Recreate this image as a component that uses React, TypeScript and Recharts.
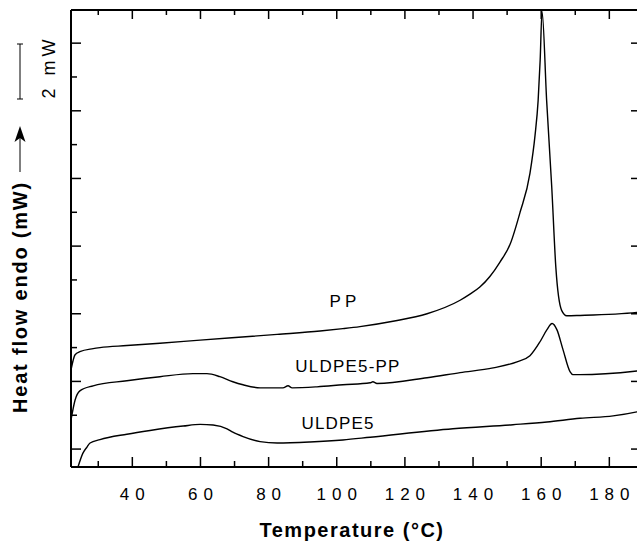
import React from 'react';
import { LineChart, Line, XAxis, YAxis, ReferenceDot } from 'recharts';

// DSC heating traces, temperature (°C) vs heat flow (in axis divisions)
const ppTemp = [22, 23.2, 24.6, 28.5, 30.5, 38.4, 48.1, 59.9, 82.5, 95.1, 101.8, 106.8, 116.5, 126.5, 136.2, 139.1, 142, 145, 147.9, 150.9, 153.8, 156.7, 158.2, 159.1, 159.7, 160.25, 161.6, 163.1, 164.3, 166, 167.5, 171.4, 188.1, 189];
const ppFlow = [2.34, 2.79, 2.88, 2.97, 3.0, 3.06, 3.13, 3.22, 3.39, 3.49, 3.56, 3.62, 3.78, 4.0, 4.4, 4.58, 4.79, 5.11, 5.53, 6.06, 7.0, 8.15, 9.28, 10.3, 11.5, 12.94, 10.3, 7.74, 5.37, 4.1, 3.94, 3.95, 4.04, 4.05];

const blendTemp = [22, 23.2, 24.6, 28.5, 38.4, 48.1, 57.8, 61.9, 65.7, 69.5, 72.5, 77.5, 84.2, 85.7, 86.9, 94.2, 101.8, 109.8, 110.6, 111.8, 126.5, 136.2, 145.9, 152.9, 156.7, 159.7, 161.7, 163.2, 164.6, 166.4, 168.5, 169.3, 171.4, 188.1, 189];
const blendFlow = [0.86, 1.45, 1.72, 1.87, 2.02, 2.14, 2.23, 2.23, 2.14, 1.99, 1.9, 1.81, 1.81, 1.87, 1.81, 1.84, 1.9, 1.96, 1.99, 1.94, 2.11, 2.26, 2.4, 2.58, 2.76, 3.18, 3.53, 3.71, 3.53, 2.94, 2.28, 2.2, 2.2, 2.31, 2.32];

const uldpeTemp = [24.05, 25.5, 26.7, 27.6, 30.5, 38.4, 45.2, 54.9, 59.9, 63.7, 67.8, 69.5, 72.5, 77.5, 82.5, 92.1, 101.8, 109.8, 134.1, 151.7, 161.7, 171.4, 181.1, 188.1, 189];
const uldpeFlow = [-0.53, -0.12, 0.06, 0.18, 0.28, 0.44, 0.55, 0.68, 0.73, 0.71, 0.6, 0.5, 0.37, 0.22, 0.18, 0.21, 0.27, 0.35, 0.6, 0.72, 0.8, 0.91, 0.98, 1.1, 1.12];

const tempTicks = [30, 40, 50, 60, 70, 80, 90, 100, 110, 120, 130, 140, 150, 160, 170, 180];
const flowTicks = [0, 1, 2, 3, 4, 5, 6, 7, 8, 9, 10, 11, 12];
const rightTicks = [0, 2, 4, 6, 8, 10, 12];

const seriesLabels = [
  { name: 'PP', t: 102.1, v: 4.37 },
  { name: 'ULDPE5-PP', t: 103, v: 2.45 },
  { name: 'ULDPE5', t: 100.1, v: 0.77 },
];

const toRows = (ts: number[], vs: number[]) => ts.map((t, i) => ({ t, v: vs[i] }));
const ppData = toRows(ppTemp, ppFlow);
const blendData = toRows(blendTemp, blendFlow);
const uldpeData = toRows(uldpeTemp, uldpeFlow);

const FONT = '"Liberation Sans", Arial, Helvetica, sans-serif';
const axisLine = { stroke: '#000', strokeWidth: 2 };
const PLOT_LEFT = 71;
const PLOT_TOP = 10;
const PLOT_BOTTOM = 467;

const BottomTick = ({ x, y, payload }: any) => {
  const major = payload.value % 20 === 0;
  return (
    <g>
      <line x1={x} x2={x} y1={y} y2={y - (major ? 10 : 6)} stroke="#000" strokeWidth={1.5} />
      {major && (
        <text x={x} y={y + 27} dx={3} textAnchor="middle" dominantBaseline="central"
          fontFamily={FONT} fontSize={17} letterSpacing={6} fill="#000">
          {payload.value}
        </text>
      )}
    </g>
  );
};

const TopTick = ({ x, y, payload }: any) => {
  const major = payload.value % 20 === 0;
  return <line x1={x} x2={x} y1={y} y2={y + (major ? 9 : 5)} stroke="#000" strokeWidth={1.5} />;
};

const LeftTick = ({ x, y, payload }: any) => {
  const major = payload.value % 2 === 0;
  return <line x1={x} x2={x + (major ? 10 : 6)} y1={y} y2={y} stroke="#000" strokeWidth={1.5} />;
};

const RightTick = ({ x, y }: any) => (
  <line x1={x} x2={x - 9} y1={y} y2={y} stroke="#000" strokeWidth={1.5} />
);

const XTitle = () => (
  <text x={352} y={PLOT_BOTTOM + 70} textAnchor="middle" fontFamily={FONT}
    fontSize={20} fontWeight="bold" letterSpacing={1.5} fill="#000">
    Temperature (°C)
  </text>
);

const YTitle = () => {
  const x0 = PLOT_LEFT;
  const y0 = PLOT_TOP;
  const bx = 20;
  return (
    <g>
      {/* 2 mW scale bar */}
      <line x1={bx} x2={bx} y1={y0 + 34} y2={y0 + 89} stroke="#000" strokeWidth={1} />
      <line x1={bx - 3} x2={bx + 3} y1={y0 + 34} y2={y0 + 34} stroke="#000" strokeWidth={1} />
      <line x1={bx - 3} x2={bx + 3} y1={y0 + 89} y2={y0 + 89} stroke="#000" strokeWidth={1} />
      <text transform={`translate(${x0 - 22},${y0 + 57}) rotate(-90)`} textAnchor="middle"
        dominantBaseline="central" fontFamily={FONT} fontSize={18} letterSpacing={4} fill="#000">
        2 mW
      </text>
      {/* arrow */}
      <line x1={bx} x2={bx} y1={y0 + 162} y2={y0 + 128} stroke="#000" strokeWidth={1} />
      <path d={`M${bx},${y0 + 116} L${bx - 5.5},${y0 + 132} L${bx},${y0 + 128} L${bx + 5.5},${y0 + 132} Z`} fill="#000" />
      <text transform={`translate(${x0 - 51},${y0 + 287}) rotate(-90)`} textAnchor="middle"
        dominantBaseline="central" fontFamily={FONT} fontSize={20} fontWeight="bold"
        letterSpacing={1.8} fill="#000">
        Heat flow endo (mW)
      </text>
    </g>
  );
};

const SeriesName = (name: string) => (p: any) => (
  <text x={p.cx} y={p.cy} dx={1} textAnchor="middle" dominantBaseline="central" fontFamily={FONT}
    fontSize={17} letterSpacing={name === 'PP' ? 4 : 1.2} fill="#000">
    {name}
  </text>
);

export default function App() {
  return (
    <div style={{ position: 'absolute', left: 0, top: 0, width: 637, height: 541, overflow: 'hidden', background: '#fff' }}>
      <LineChart width={660} height={541} margin={{ top: 0, right: 0, bottom: 14, left: 11 }}>
        <XAxis dataKey="t" type="number" domain={[22, 189]} allowDataOverflow ticks={tempTicks}
          interval={0} height={60} tickSize={0} tickMargin={0} tickLine={false}
          axisLine={axisLine} tick={<BottomTick />} label={XTitle} />
        <XAxis xAxisId="top" orientation="top" dataKey="t" type="number" domain={[22, 189]}
          allowDataOverflow ticks={tempTicks} interval={0} height={10} tickSize={0} tickMargin={0}
          tickLine={false} axisLine={axisLine} tick={<TopTick />} />
        <YAxis type="number" domain={[-0.53, 12.98]} allowDataOverflow ticks={flowTicks}
          interval={0} width={60} tickSize={0} tickMargin={0} tickLine={false}
          axisLine={axisLine} tick={<LeftTick />} label={YTitle} />
        <YAxis yAxisId="right" orientation="right" type="number" domain={[-0.53, 12.98]}
          allowDataOverflow ticks={rightTicks} interval={0} width={20} tickSize={0} tickMargin={0}
          tickLine={false} axisLine={axisLine} tick={<RightTick />} />
        <Line data={ppData} dataKey="v" type="monotone" stroke="#000" strokeWidth={1.4}
          dot={false} activeDot={false} isAnimationActive={false} />
        <Line data={blendData} dataKey="v" type="monotone" stroke="#000" strokeWidth={1.4}
          dot={false} activeDot={false} isAnimationActive={false} />
        <Line data={uldpeData} dataKey="v" type="monotone" stroke="#000" strokeWidth={1.4}
          dot={false} activeDot={false} isAnimationActive={false} />
        {seriesLabels.map((s) => (
          <ReferenceDot key={s.name} x={s.t} y={s.v} r={0} shape={SeriesName(s.name)} />
        ))}
      </LineChart>
    </div>
  );
}
